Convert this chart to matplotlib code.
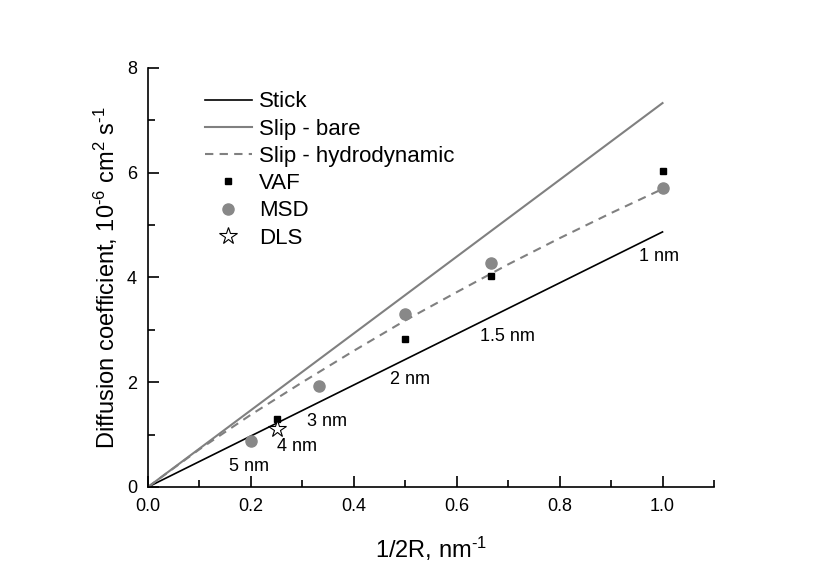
import numpy as np
import matplotlib
matplotlib.use("Agg")
import matplotlib.pyplot as plt
from matplotlib.ticker import MultipleLocator

plt.rcParams['font.family'] = ['Liberation Sans', 'DejaVu Sans']
plt.rcParams['mathtext.fontset'] = 'custom'
plt.rcParams['mathtext.rm'] = 'Liberation Sans'
plt.rcParams['mathtext.default'] = 'regular'

# model lines (x = 1/2R, nm^-1)
line_x = [0.0, 1.0]
stick_y = [0.0, 4.87]
bare_y = [0.0, 7.33]
hydro_x = [0.0, 0.1, 0.2, 0.3, 0.4, 0.5, 0.6, 0.7, 0.8, 0.9, 1.0]
hydro_y = [0.0, 0.72, 1.38, 2.0, 2.6, 3.18, 3.72, 4.25, 4.75, 5.23, 5.69]

# simulation / experiment points
vaf_x = [0.25, 0.5, 0.667, 1.0]
vaf_y = [1.3, 2.82, 4.02, 6.03]
msd_x = [0.2, 0.333, 0.5, 0.667, 1.0]
msd_y = [0.88, 1.92, 3.3, 4.27, 5.7]
dls_x = [0.25]
dls_y = [1.1]

# radius labels
size_labels = ['1 nm', '1.5 nm', '2 nm', '3 nm', '4 nm', '5 nm']
size_lx = [0.955, 0.645, 0.47, 0.31, 0.25, 0.158]
size_ly = [4.4, 2.88, 2.05, 1.25, 0.77, 0.4]

fig = plt.figure(figsize=(8.3, 5.84), dpi=100)
ax = fig.add_axes([0.1783, 0.1661, 0.6819, 0.7175])

ax.plot(line_x, stick_y, color='black', lw=1.2, label='Stick')
ax.plot(line_x, bare_y, color='#808080', lw=1.5, label='Slip - bare')
ax.plot(hydro_x, hydro_y, color='#808080', lw=1.5, ls=(0, (4, 3)),
        label='Slip - hydrodynamic')
ax.plot(vaf_x, vaf_y, ls='none', marker='s', ms=4.5, color='black', label='VAF')
ax.plot(msd_x, msd_y, ls='none', marker='o', ms=8, color='#888888',
        mec='#888888', label='MSD')
ax.plot(dls_x, dls_y, ls='none', marker='*', ms=13, mfc='white', mec='black',
        mew=0.8, label='DLS')

for t, x, y in zip(size_labels, size_lx, size_ly):
    ax.text(x, y, t, fontsize=13, ha='left', va='center')

ax.set_xlim(0, 1.1)
ax.set_ylim(0, 8)
ax.xaxis.set_major_locator(MultipleLocator(0.2))
ax.xaxis.set_minor_locator(MultipleLocator(0.1))
ax.yaxis.set_major_locator(MultipleLocator(2))
ax.yaxis.set_minor_locator(MultipleLocator(1))
ax.xaxis.set_major_formatter(plt.FormatStrFormatter('%.1f'))
ax.yaxis.set_major_formatter(plt.FormatStrFormatter('%d'))
ax.tick_params(which='major', direction='in', length=8, width=1.2, labelsize=13, pad=8)
ax.tick_params(which='minor', direction='in', length=5, width=1.2)
ax.spines['top'].set_visible(False)
ax.spines['right'].set_visible(False)
for s in ['left', 'bottom']:
    ax.spines[s].set_linewidth(1.2)

ax.set_xlabel('1/2R, nm$^{\u2010' + '1}$', fontsize=17, labelpad=14)
ax.set_ylabel('Diffusion coefficient, 10$^{\u20106}$ cm$^{2}$ s$^{\u20101}$',
              fontsize=17, labelpad=5)

ax.legend(loc='upper left', bbox_to_anchor=(0.1, 0.944), frameon=False,
          fontsize=16, handlelength=2.15, handletextpad=0.3, labelspacing=0.28,
          borderaxespad=0, borderpad=0)

fig.savefig('out.png', dpi=100)
